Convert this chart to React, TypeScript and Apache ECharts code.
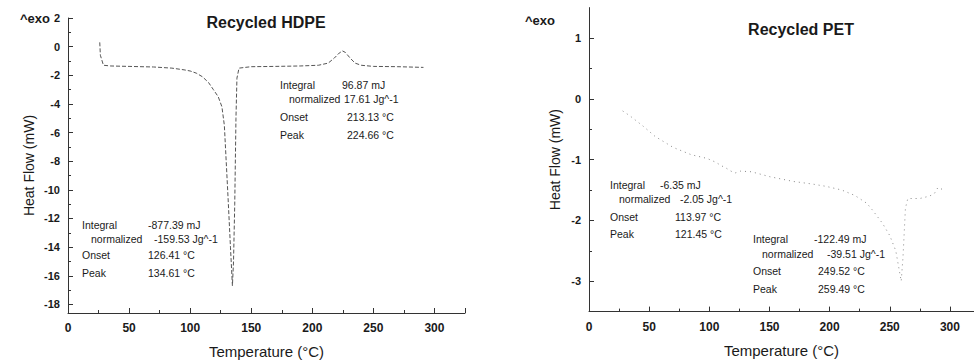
import React, { useEffect, useRef } from "react";
import * as echarts from "echarts";

// ---- Data ----
const hdpeTemp = [26, 26.5, 29, 35, 50, 70, 85, 95, 100, 105, 110, 115, 119, 123, 126, 128, 129.5, 131, 133, 134.6, 135.5, 136.5, 137.5, 138.3, 140, 150, 170, 190, 205, 213, 218, 222, 224.7, 227, 231, 235, 240, 250, 270, 291];
const hdpeFlow = [0.3, -0.6, -1.3, -1.35, -1.38, -1.42, -1.5, -1.62, -1.7, -1.85, -2.1, -2.5, -3.0, -3.5, -4.2, -5.5, -8, -10.5, -14, -16.7, -15, -11, -5, -2.2, -1.5, -1.4, -1.38, -1.35, -1.3, -1.15, -0.8, -0.45, -0.3, -0.4, -0.8, -1.15, -1.3, -1.38, -1.4, -1.45];

const petTemp = [28, 34, 45, 55, 70, 85, 98, 105, 110, 114, 118, 121.5, 126, 135, 150, 170, 185, 197, 210, 221, 231, 236, 244, 250, 255, 259.5, 261, 263, 265, 275, 283, 287, 290, 295];
const petFlow = [-0.2, -0.28, -0.45, -0.62, -0.8, -0.92, -0.98, -1.04, -1.1, -1.14, -1.19, -1.22, -1.19, -1.2, -1.28, -1.36, -1.4, -1.44, -1.5, -1.59, -1.72, -1.84, -2.05, -2.25, -2.5, -3.0, -2.6, -1.8, -1.64, -1.64, -1.6, -1.56, -1.46, -1.5];

const hdpeYLabels = [2, 0, -2, -4, -6, -8, -10, -12, -14, -16, -18];
const hdpeYMinor = [1, -1, -3, -5, -7, -9, -11, -13, -15, -17];
const petYLabels = [1, 0, -1, -2, -3];
const petYMinor = [0.5, -0.5, -1.5, -2.5];

const annoLabels = ["Integral", "normalized", "Onset", "Peak"];
const hdpeMeltValues = ["-877.39 mJ", "-159.53 Jg^-1", "126.41 °C", "134.61 °C"];
const hdpeCrystValues = ["96.87 mJ", "17.61 Jg^-1", "213.13 °C", "224.66 °C"];
const petFirstValues = ["-6.35 mJ", "-2.05 Jg^-1", "113.97 °C", "121.45 °C"];
const petMeltValues = ["-122.49 mJ", "-39.51 Jg^-1", "249.52 °C", "259.49 °C"];

const titles = ["Recycled HDPE", "Recycled PET"];
const exoLabel = "^exo";
const xName = "Temperature (°C)";
const yName = "Heat Flow (mW)";

const FONT = "'Liberation Sans', Arial, Helvetica, sans-serif";
const INK = "#1a1a1a";

function block(x0: number, rows: number[], valueX: number[], values: string[]) {
  const out: any[] = [];
  annoLabels.forEach((lab, i) => {
    out.push({
      type: "text",
      x: i === 1 ? x0 + 9 : x0,
      y: rows[i],
      style: { text: lab, fill: INK, font: `10.5px ${FONT}`, textVerticalAlign: "middle" },
    });
    out.push({
      type: "text",
      x: valueX[i],
      y: rows[i],
      style: { text: values[i], fill: INK, font: `10.5px ${FONT}`, textVerticalAlign: "middle" },
    });
  });
  return out;
}

export default function App() {
  const ref = useRef<HTMLDivElement>(null);
  useEffect(() => {
    document.body.style.margin = "0";
    const chart = echarts.init(ref.current!, undefined, { renderer: "svg" });

    const axisLine = { show: true, lineStyle: { color: "#333", width: 1 } };
    const xAxisBase = (grid: number, max: number) => ({
      type: "value",
      gridIndex: grid,
      min: 0,
      max,
      interval: 50,
      axisLine: { ...axisLine, onZero: false },
      axisTick: { inside: true, length: 5, lineStyle: { color: "#333" } },
      minorTick: { show: true, splitNumber: 2, length: 3, lineStyle: { color: "#333" } },
      splitLine: { show: false },
      axisLabel: { color: INK, fontSize: 12, fontWeight: "bold", fontFamily: FONT, margin: 9, showMaxLabel: false },
      name: xName,
      nameLocation: "middle",
      nameGap: 31,
      nameTextStyle: { color: INK, fontSize: 15, fontFamily: FONT },
    });
    const yMajor = (grid: number, min: number, max: number, vals: number[], gap: number) => ({
      type: "value",
      gridIndex: grid,
      position: "left",
      min,
      max,
      axisLine: { ...axisLine, onZero: false },
      axisTick: { inside: true, length: 5, customValues: vals, lineStyle: { color: "#333" } },
      axisLabel: { color: INK, fontSize: 11, fontWeight: "bold", fontFamily: FONT, margin: 8, customValues: vals },
      splitLine: { show: false },
      name: yName,
      nameLocation: "middle",
      nameGap: gap,
      nameTextStyle: { color: INK, fontSize: 14, fontFamily: FONT },
    });
    const yMinor = (grid: number, min: number, max: number, vals: number[]) => ({
      type: "value",
      gridIndex: grid,
      position: "left",
      offset: 0,
      min,
      max,
      axisLine: { show: false, onZero: false },
      axisTick: { inside: true, length: 3, customValues: vals, lineStyle: { color: "#333" } },
      axisLabel: { show: false },
      splitLine: { show: false },
    });

    chart.setOption({
      animation: false,
      backgroundColor: "#fff",
      grid: [
        { left: 68, top: 18, width: 397, height: 297 },
        { left: 589, top: 7.6, width: 385, height: 304 },
      ],
      xAxis: [xAxisBase(0, 325), xAxisBase(1, 320)],
      yAxis: [
        yMajor(0, -18.6, 2, hdpeYLabels, 32),
        yMajor(1, -3.5, 1.5, petYLabels, 27),
        yMinor(0, -18.6, 2, hdpeYMinor),
        yMinor(1, -3.5, 1.5, petYMinor),
      ],
      series: [
        {
          type: "line",
          xAxisIndex: 0,
          yAxisIndex: 0,
          showSymbol: false,
          data: hdpeTemp.map((t, i) => [t, hdpeFlow[i]]),
          lineStyle: { color: "#555", width: 1, type: [4, 2] },
        },
        {
          type: "line",
          xAxisIndex: 1,
          yAxisIndex: 1,
          showSymbol: false,
          data: petTemp.map((t, i) => [t, petFlow[i]]),
          lineStyle: { color: "#888", width: 1, type: [1, 4] },
        },
      ],
      graphic: [
        { type: "text", x: 20, y: 18, style: { text: exoLabel, fill: INK, font: `bold 13px ${FONT}`, textVerticalAlign: "middle" } },
        { type: "text", x: 525, y: 20, style: { text: exoLabel, fill: INK, font: `bold 13px ${FONT}`, textVerticalAlign: "middle" } },
        { type: "text", x: 266, y: 22, style: { text: titles[0], fill: INK, font: `bold 16px ${FONT}`, textAlign: "center", textVerticalAlign: "middle" } },
        { type: "text", x: 801, y: 29, style: { text: titles[1], fill: INK, font: `bold 16px ${FONT}`, textAlign: "center", textVerticalAlign: "middle" } },
        ...block(280, [85, 99, 117, 135], [342, 344, 347, 347], hdpeCrystValues),
        ...block(82, [225, 239, 255, 273], [148, 154, 148, 148], hdpeMeltValues),
        ...block(610, [185, 199, 217, 234], [660, 680, 675, 675], petFirstValues),
        ...block(753, [239, 254, 271, 289], [814, 827, 818, 818], petMeltValues),
      ],
    });
    return () => chart.dispose();
  }, []);
  return <div ref={ref} style={{ width: 974, height: 364 }} />;
}
